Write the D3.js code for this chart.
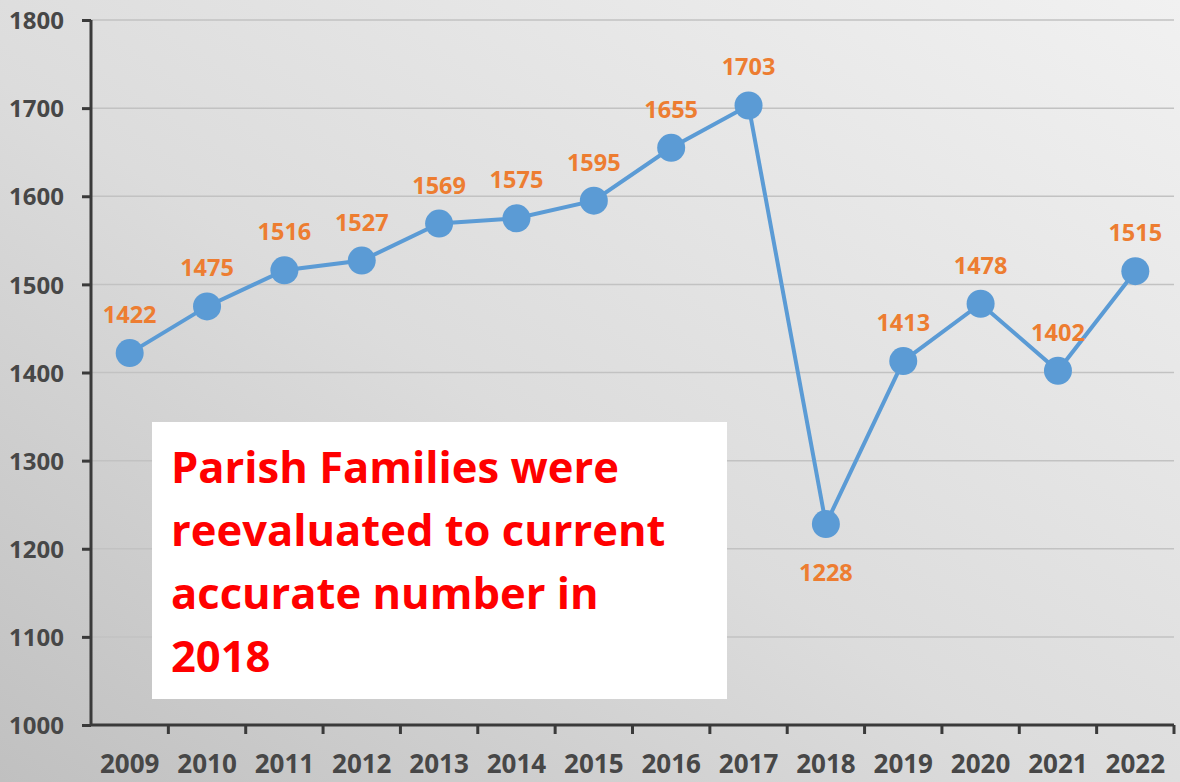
<!DOCTYPE html>
<html>
<head>
<meta charset="utf-8">
<script src="https://cdn.jsdelivr.net/npm/d3@7"></script>
<style>
  html, body { margin: 0; padding: 0; background: #ffffff; }
  svg { display: block; }
</style>
</head>
<body>
<div id="chart"></div>
<script>
const years = ['2009', '2010', '2011', '2012', '2013', '2014', '2015', '2016', '2017', '2018', '2019', '2020', '2021', '2022'];
const families = [1422, 1475, 1516, 1527, 1569, 1575, 1595, 1655, 1703, 1228, 1413, 1478, 1402, 1515];
const yTicks = [1000, 1100, 1200, 1300, 1400, 1500, 1600, 1700, 1800];
const noteLines = ['Parish Families were', 'reevaluated to current', 'accurate number in', '2018'];

const width = 1180;
const height = 782;
const margin = { top: 20, right: 6, bottom: 57, left: 91 };

let svg = d3.select('#chart')
  .append('svg')
  .attr('width', width)
  .attr('height', height);

// background gradient, lighter top right, darker bottom left
let grad = svg.append('defs')
  .append('linearGradient')
  .attr('id', 'bg')
  .attr('x1', 1).attr('y1', 0)
  .attr('x2', 0).attr('y2', 1);
grad.append('stop').attr('offset', '0%').attr('stop-color', '#f1f1f1');
grad.append('stop').attr('offset', '55%').attr('stop-color', '#dcdcdc');
grad.append('stop').attr('offset', '100%').attr('stop-color', '#c0c0c0');

svg.append('rect')
  .attr('width', width)
  .attr('height', height)
  .attr('fill', 'url(#bg)');

let x = d3.scaleBand()
  .domain(years)
  .range([margin.left, width - margin.right]);

let y = d3.scaleLinear()
  .domain([1000, 1800])
  .range([height - margin.bottom, margin.top]);

// gridlines
svg.append('g')
  .selectAll('line')
  .data(yTicks.slice(1))
  .enter()
  .append('line')
  .attr('x1', margin.left)
  .attr('x2', width - margin.right)
  .attr('y1', function (d) { return y(d); })
  .attr('y2', function (d) { return y(d); })
  .attr('stroke', '#c2c2c2')
  .attr('stroke-width', 1.5);

// y axis
let yAxis = svg.append('g')
  .attr('transform', 'translate(' + margin.left + ',0)')
  .call(d3.axisLeft(y).tickValues(yTicks).tickSize(9).tickPadding(18).tickFormat(d3.format('d')));

// x axis, ticks on band boundaries
let xAxis = svg.append('g')
  .attr('transform', 'translate(0,' + (height - margin.bottom) + ')')
  .call(d3.axisBottom(x).tickSize(0).tickPadding(30));

xAxis.selectAll('.tick-mark')
  .data(years.map(function (d) { return x(d) + x.bandwidth(); }))
  .enter()
  .append('line')
  .attr('class', 'tick-mark')
  .attr('x1', function (d) { return d; })
  .attr('x2', function (d) { return d; })
  .attr('y1', 0)
  .attr('y2', 9)
  .attr('stroke', '#3a3a3a')
  .attr('stroke-width', 3);

[yAxis, xAxis].forEach(function (ax) {
  ax.select('.domain').attr('stroke', '#3a3a3a').attr('stroke-width', 3);
  ax.selectAll('.tick line').attr('stroke', '#3a3a3a').attr('stroke-width', 3);
  ax.selectAll('text')
    .attr('fill', '#474747')
    .style('font-family', '"Open Sans", sans-serif')
    .style('font-weight', 'bold');
});
yAxis.select('.domain').attr('d', 'M0,' + margin.top + 'V' + (height - margin.bottom));
yAxis.selectAll('text').style('font-size', '24px').attr('dy', '0.36em');
xAxis.select('.domain').attr('d', 'M' + margin.left + ',0H' + (width - margin.right));
xAxis.selectAll('text').style('font-size', '26px');

// line
let line = d3.line()
  .x(function (d, i) { return x(years[i]) + x.bandwidth() / 2; })
  .y(function (d) { return y(d); });

svg.append('path')
  .datum(families)
  .attr('d', line)
  .attr('fill', 'none')
  .attr('stroke', '#5b9bd5')
  .attr('stroke-width', 4);

svg.append('g')
  .selectAll('circle')
  .data(families)
  .enter()
  .append('circle')
  .attr('cx', function (d, i) { return x(years[i]) + x.bandwidth() / 2; })
  .attr('cy', function (d) { return y(d); })
  .attr('r', 14)
  .attr('fill', '#5b9bd5');

// data labels (2018 goes below its point)
svg.append('g')
  .selectAll('text')
  .data(families)
  .enter()
  .append('text')
  .attr('x', function (d, i) { return x(years[i]) + x.bandwidth() / 2; })
  .attr('y', function (d, i) { return years[i] === '2018' ? y(d) + 57 : y(d) - 30; })
  .attr('text-anchor', 'middle')
  .attr('fill', '#ed7d31')
  .style('font-family', '"Open Sans", sans-serif')
  .style('font-weight', 'bold')
  .style('font-size', '23.5px')
  .text(function (d) { return d; });

// note box
let note = svg.append('g');
note.append('rect')
  .attr('x', 152)
  .attr('y', 422)
  .attr('width', 575)
  .attr('height', 277)
  .attr('fill', '#ffffff');

note.selectAll('text')
  .data(noteLines)
  .enter()
  .append('text')
  .attr('x', 171)
  .attr('y', function (d, i) { return 483 + i * 63; })
  .attr('fill', '#ff0000')
  .style('font-family', '"Open Sans", sans-serif')
  .style('font-weight', 'bold')
  .style('font-size', '43.5px')
  .text(function (d) { return d; });
</script>
</body>
</html>
